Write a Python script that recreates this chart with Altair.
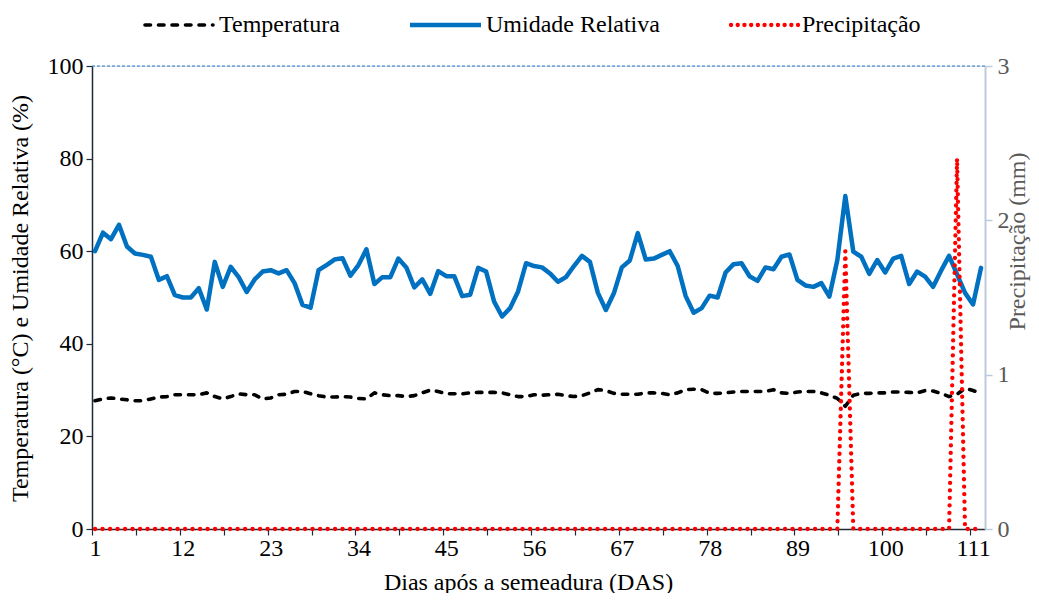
import altair as alt
import pandas as pd

FONT = "Liberation Serif"
FS = 24

dias = list(range(1, 113))

temperatura = [
    27.7, 28.1, 28.3, 28.1, 27.9, 27.7, 27.7, 28.1, 28.5, 28.6,
    29.0, 29.0, 29.0, 29.0, 29.4, 28.6, 28.1, 28.6, 29.2, 29.0,
    29.0, 28.1, 28.3, 29.0, 29.1, 29.7, 29.7, 29.2, 28.8, 28.5,
    28.5, 28.6, 28.5, 28.2, 28.1, 29.4, 29.0, 28.8, 28.8, 28.6,
    28.8, 29.4, 30.0, 29.7, 29.2, 29.2, 29.2, 29.4, 29.5, 29.5,
    29.5, 29.4, 29.0, 28.6, 28.6, 29.0, 28.9, 29.0, 29.1, 28.8,
    28.6, 28.8, 29.4, 30.1, 29.9, 29.3, 29.1, 29.1, 29.1, 29.4,
    29.4, 29.3, 29.0, 29.4, 30.1, 30.2, 30.1, 29.3, 29.3, 29.4,
    29.6, 29.7, 29.7, 29.7, 29.7, 30.1, 29.4, 29.3, 29.6, 29.7,
    29.7, 29.4, 28.9, 28.2, 26.5, 28.9, 29.3, 29.3, 29.4, 29.4,
    29.6, 29.6, 29.5, 29.4, 29.9, 29.8, 29.3, 28.6, 29.1, 30.4,
    29.9, 29.3,
]

umidade = [
    60.0, 64.0, 62.6, 65.7, 61.0, 59.5, 59.2, 58.8, 53.8, 54.6,
    50.5, 50.0, 50.0, 52.0, 47.4, 57.7, 52.3, 56.6, 54.4, 51.2,
    53.9, 55.6, 55.9, 55.2, 55.9, 53.1, 48.4, 47.8, 55.9, 57.0,
    58.2, 58.5, 54.7, 57.0, 60.4, 52.9, 54.4, 54.4, 58.4, 56.5,
    52.2, 53.9, 50.8, 55.7, 54.6, 54.6, 50.3, 50.6, 56.4, 55.6,
    49.1, 45.9, 47.7, 51.3, 57.4, 56.8, 56.5, 55.2, 53.4, 54.4,
    56.8, 59.0, 57.7, 51.0, 47.3, 50.9, 56.5, 58.0, 63.9, 58.2,
    58.4, 59.2, 60.0, 56.8, 50.3, 46.7, 47.7, 50.4, 50.0, 55.4,
    57.2, 57.4, 54.6, 53.6, 56.5, 56.1, 58.8, 59.3, 53.8, 52.6,
    52.3, 53.1, 50.2, 58.1, 71.9, 59.9, 58.8, 55.1, 58.1, 55.4,
    58.4, 59.0, 52.9, 55.6, 54.5, 52.3, 55.8, 59.0, 55.0, 51.0,
    48.5, 56.4,
]

precipitacao = [
    0, 0, 0, 0, 0, 0, 0, 0, 0, 0,
    0, 0, 0, 0, 0, 0, 0, 0, 0, 0,
    0, 0, 0, 0, 0, 0, 0, 0, 0, 0,
    0, 0, 0, 0, 0, 0, 0, 0, 0, 0,
    0, 0, 0, 0, 0, 0, 0, 0, 0, 0,
    0, 0, 0, 0, 0, 0, 0, 0, 0, 0,
    0, 0, 0, 0, 0, 0, 0, 0, 0, 0,
    0, 0, 0, 0, 0, 0, 0, 0, 0, 0,
    0, 0, 0, 0, 0, 0, 0, 0, 0, 0,
    0, 0, 0, 0, 1.8, 0, 0, 0, 0, 0,
    0, 0, 0, 0, 0, 0, 0, 0, 2.4, 0,
    0, 0,
]

x_tick_labels = [1, 12, 23, 34, 45, 56, 67, 78, 89, 100, 111]
x_tick_values = sorted(x_tick_labels + [v + 5.5 for v in x_tick_labels[:-1]])
y_left_ticks = [0, 20, 40, 60, 80, 100]
y_right_ticks = [0, 1, 2, 3]
series_names = ["Temperatura", "Umidade Relativa", "Precipitação"]

df = pd.DataFrame({"dia": dias, "temp": temperatura, "umid": umidade, "prec": precipitacao})
legend_df = pd.DataFrame({"serie": series_names})

DARK = "#1f2a36"
GRAY = "#595959"
RAXIS = "#bccbdb"
BLUE = "#0070c0"
RED = "#ff0000"
PREC_DASH = [0.1, 7.4]

x_enc = alt.X(
    "dia:Q",
    scale=alt.Scale(domain=[0.62, 112.5], nice=False, zero=False),
    axis=alt.Axis(
        values=x_tick_values,
        labelExpr="datum.value % 1 === 0 ? format(datum.value, 'd') : ''",
        title="Dias após a semeadura (DAS)",
        titleFont=FONT, titleFontSize=FS, titleFontWeight="normal", titleColor="black",
        titleX=436, titleY=53, titleBaseline="middle",
        labelFont=FONT, labelFontSize=FS, labelColor="black",
        labelPadding=1, labelFlush=False, labelOverlap=False,
        tickOffset=-3, labelOffset=3,
        domainColor=DARK, domainWidth=1.5, tickColor=DARK, tickSize=6, tickWidth=1.2,
        grid=False,
    ),
)

left_axis = alt.Axis(
    values=y_left_ticks,
    title="Temperatura (°C) e Umidade Relativa (%)",
    titleFont=FONT, titleFontSize=FS, titleFontWeight="normal", titleColor="black",
    titleAngle=270, titleX=-72, titleY=232, titleAlign="center", titleBaseline="middle",
    labelFont=FONT, labelFontSize=FS, labelColor="black", labelPadding=3,
    domainColor=DARK, domainWidth=1.5, tickColor=DARK, tickSize=6, tickWidth=1.2,
    grid=False,
)
left_scale = alt.Scale(domain=[0, 100], nice=False, zero=True)

right_axis = alt.Axis(
    orient="right",
    values=y_right_ticks,
    title="Precipitação (mm)",
    titleFont=FONT, titleFontSize=FS, titleFontWeight="normal", titleColor=GRAY,
    titleAngle=270, titleX=32, titleY=175, titleAlign="center", titleBaseline="middle",
    labelFont=FONT, labelFontSize=FS, labelColor=GRAY, labelPadding=5,
    domainColor=RAXIS, domainWidth=2, tickColor=RAXIS, tickSize=7, tickWidth=1.5,
    grid=False,
)
right_scale = alt.Scale(domain=[0, 3], nice=False, zero=True)

top_rule = alt.Chart(df).mark_rule(color="#1f78d1", strokeWidth=1.2, strokeDash=[3, 2]).encode(
    y=alt.Y("v:Q", scale=left_scale, axis=left_axis)
).transform_aggregate(n="count()").transform_calculate(v="100")

temp_line = alt.Chart(df).mark_line(
    color="black", strokeWidth=3.6, strokeDash=[5.5, 8], strokeCap="round", strokeJoin="round"
).encode(x=x_enc, y=alt.Y("temp:Q", scale=left_scale, axis=left_axis))

umid_line = alt.Chart(df).mark_line(
    color=BLUE, strokeWidth=4.5, strokeJoin="round", strokeCap="round"
).encode(x=x_enc, y=alt.Y("umid:Q", scale=left_scale, axis=left_axis))

left = alt.layer(umid_line, temp_line, top_rule)

prec_line = alt.Chart(df).mark_line(
    color=RED, strokeWidth=4.3, strokeDash=PREC_DASH, strokeCap="round", strokeJoin="round"
).encode(x=x_enc, y=alt.Y("prec:Q", scale=right_scale, axis=right_axis))

LEG_Y = -41
leg_styles = {
    "Temperatura": dict(color="black", strokeWidth=3.6, strokeDash=[5.5, 8], strokeCap="round"),
    "Umidade Relativa": dict(color=BLUE, strokeWidth=4.5, strokeCap="butt"),
    "Precipitação": dict(color=RED, strokeWidth=4.3, strokeDash=[0.1, 6.6], strokeCap="round"),
}
leg_pos = {"Temperatura": (53, 121, 127), "Umidade Relativa": (318, 389, 394), "Precipitação": (639, 706, 710)}

legend_layers = []
for name in series_names:
    x0, x1, xt = leg_pos[name]
    sub = alt.Chart(legend_df).transform_filter(alt.datum.serie == name)
    legend_layers.append(
        sub.mark_rule(**leg_styles[name]).encode(
            x=alt.value(x0), x2=alt.value(x1), y=alt.value(LEG_Y)
        )
    )
    legend_layers.append(
        sub.mark_text(align="left", baseline="middle", font=FONT, fontSize=FS, color="black").encode(
            x=alt.value(xt), y=alt.value(LEG_Y), text="serie:N"
        )
    )

chart = alt.layer(left, prec_line, *legend_layers).resolve_scale(y="independent").properties(
    width=893,
    height=463,
    autosize=alt.AutoSizeParams(type="none"),
    padding={"left": 84, "top": 58, "right": 46, "bottom": 64},
).configure_view(stroke=None).configure(background="white")

chart.save("out.html", embed_options={"renderer": "svg", "actions": False})
